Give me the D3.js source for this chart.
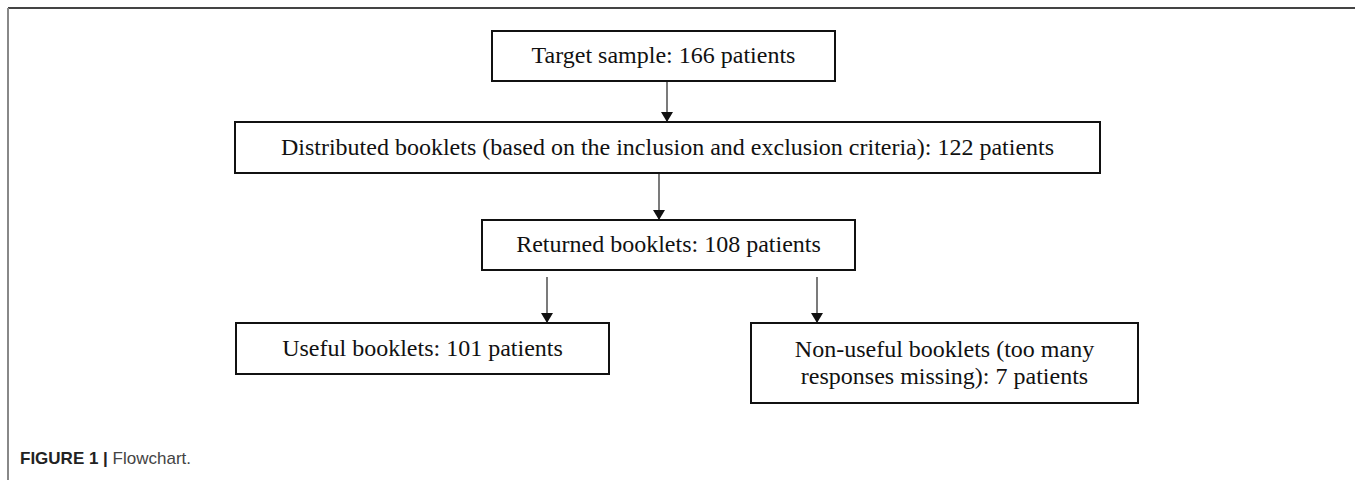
<!DOCTYPE html>
<html lang="en">
<head>
  <meta charset="utf-8">
  <title>Flowchart</title>
  <script src="https://d3js.org/d3.v7.min.js"></script>
  <style>
    body { margin: 0; background: #fff; }
    .box { fill: #fff; stroke: #111; stroke-width: 2; }
    .label { font-family: "Liberation Serif", "Times New Roman", serif; font-size: 24px; fill: #111; }
    .arrow { stroke: #222; stroke-width: 1.2; }
    .caption { font-family: "Liberation Sans", Arial, sans-serif; font-size: 17px; fill: #444; }
  </style>
</head>
<body>
<script>
// stage names and patient counts
const stages = [
  "Target sample",
  "Distributed booklets (based on the inclusion and exclusion criteria)",
  "Returned booklets",
  "Useful booklets",
  "Non-useful booklets (too many responses missing)"
];
const counts = [166, 122, 108, 101, 7];
const links = [[0, 1], [1, 2], [2, 3], [2, 4]];

// box geometry (layout only)
const layout = [
  {x0: 492, x1: 835, y0: 31, y1: 81, lines: 1},
  {x0: 235, x1: 1100, y0: 122, y1: 173, lines: 1},
  {x0: 482, x1: 855, y0: 220, y1: 270, lines: 1},
  {x0: 236, x1: 609, y0: 323, y1: 374, lines: 1},
  {x0: 751, x1: 1138, y0: 323, y1: 403, lines: 2}
];
// where each arrow sits (x) and its start/end
const arrowPos = [
  {x: 667, y0: 81, y1: 122},
  {x: 659, y0: 173, y1: 220},
  {x: 547, y0: 277, y1: 323},
  {x: 817, y0: 277, y1: 323}
];

const W = 1355, H = 480;
const svg = d3.select("body").append("svg").attr("width", W).attr("height", H);

svg.append("defs").append("marker")
  .attr("id", "head")
  .attr("viewBox", "0 0 10 12")
  .attr("refX", 10).attr("refY", 6)
  .attr("markerUnits", "userSpaceOnUse")
  .attr("markerWidth", 10).attr("markerHeight", 12)
  .attr("orient", "auto")
  .append("path").attr("d", "M0,0L10,6L0,12Z").attr("fill", "#111");

// frame around figure
svg.append("line").attr("x1", 8).attr("x2", W).attr("y1", 8).attr("y2", 8)
  .attr("stroke", "#444").attr("stroke-width", 2);
svg.append("line").attr("x1", 8).attr("x2", 8).attr("y1", 8).attr("y2", H)
  .attr("stroke", "#888").attr("stroke-width", 2);

// arrows
svg.selectAll("line.arrow")
  .data(links)
  .enter().append("line")
  .attr("class", "arrow")
  .attr("x1", (d, i) => arrowPos[i].x)
  .attr("x2", (d, i) => arrowPos[i].x)
  .attr("y1", (d, i) => arrowPos[i].y0)
  .attr("y2", (d, i) => arrowPos[i].y1)
  .attr("marker-end", "url(#head)");

// boxes
const nodes = stages.map((s, i) => ({name: s, n: counts[i], ...layout[i]}));

const g = svg.selectAll("g.node").data(nodes).enter().append("g").attr("class", "node");
g.append("rect").attr("class", "box")
  .attr("x", d => d.x0).attr("y", d => d.y0)
  .attr("width", d => d.x1 - d.x0).attr("height", d => d.y1 - d.y0);

g.each(function (d) {
  const full = `${d.name}: ${d.n} patients`;
  let rows = [full];
  if (d.lines == 2) {
    // split after "too many"
    const k = full.indexOf("responses");
    rows = [full.slice(0, k).trim(), full.slice(k)];
  }
  const cx = (d.x0 + d.x1) / 2;
  const lh = 27;
  const mid = (d.y0 + d.y1) / 2;
  const t = d3.select(this).append("text").attr("class", "label").attr("text-anchor", "middle");
  rows.forEach((r, j) => {
    t.append("tspan").attr("x", cx)
      .attr("y", mid + (j - (rows.length - 1) / 2) * lh + 7)
      .text(r);
  });
});

// caption
const cap = svg.append("text").attr("class", "caption").attr("x", 20).attr("y", 464);
cap.append("tspan").attr("font-weight", "bold").attr("fill", "#222").text("FIGURE 1 | ");
cap.append("tspan").text("Flowchart.");
</script>
</body>
</html>
